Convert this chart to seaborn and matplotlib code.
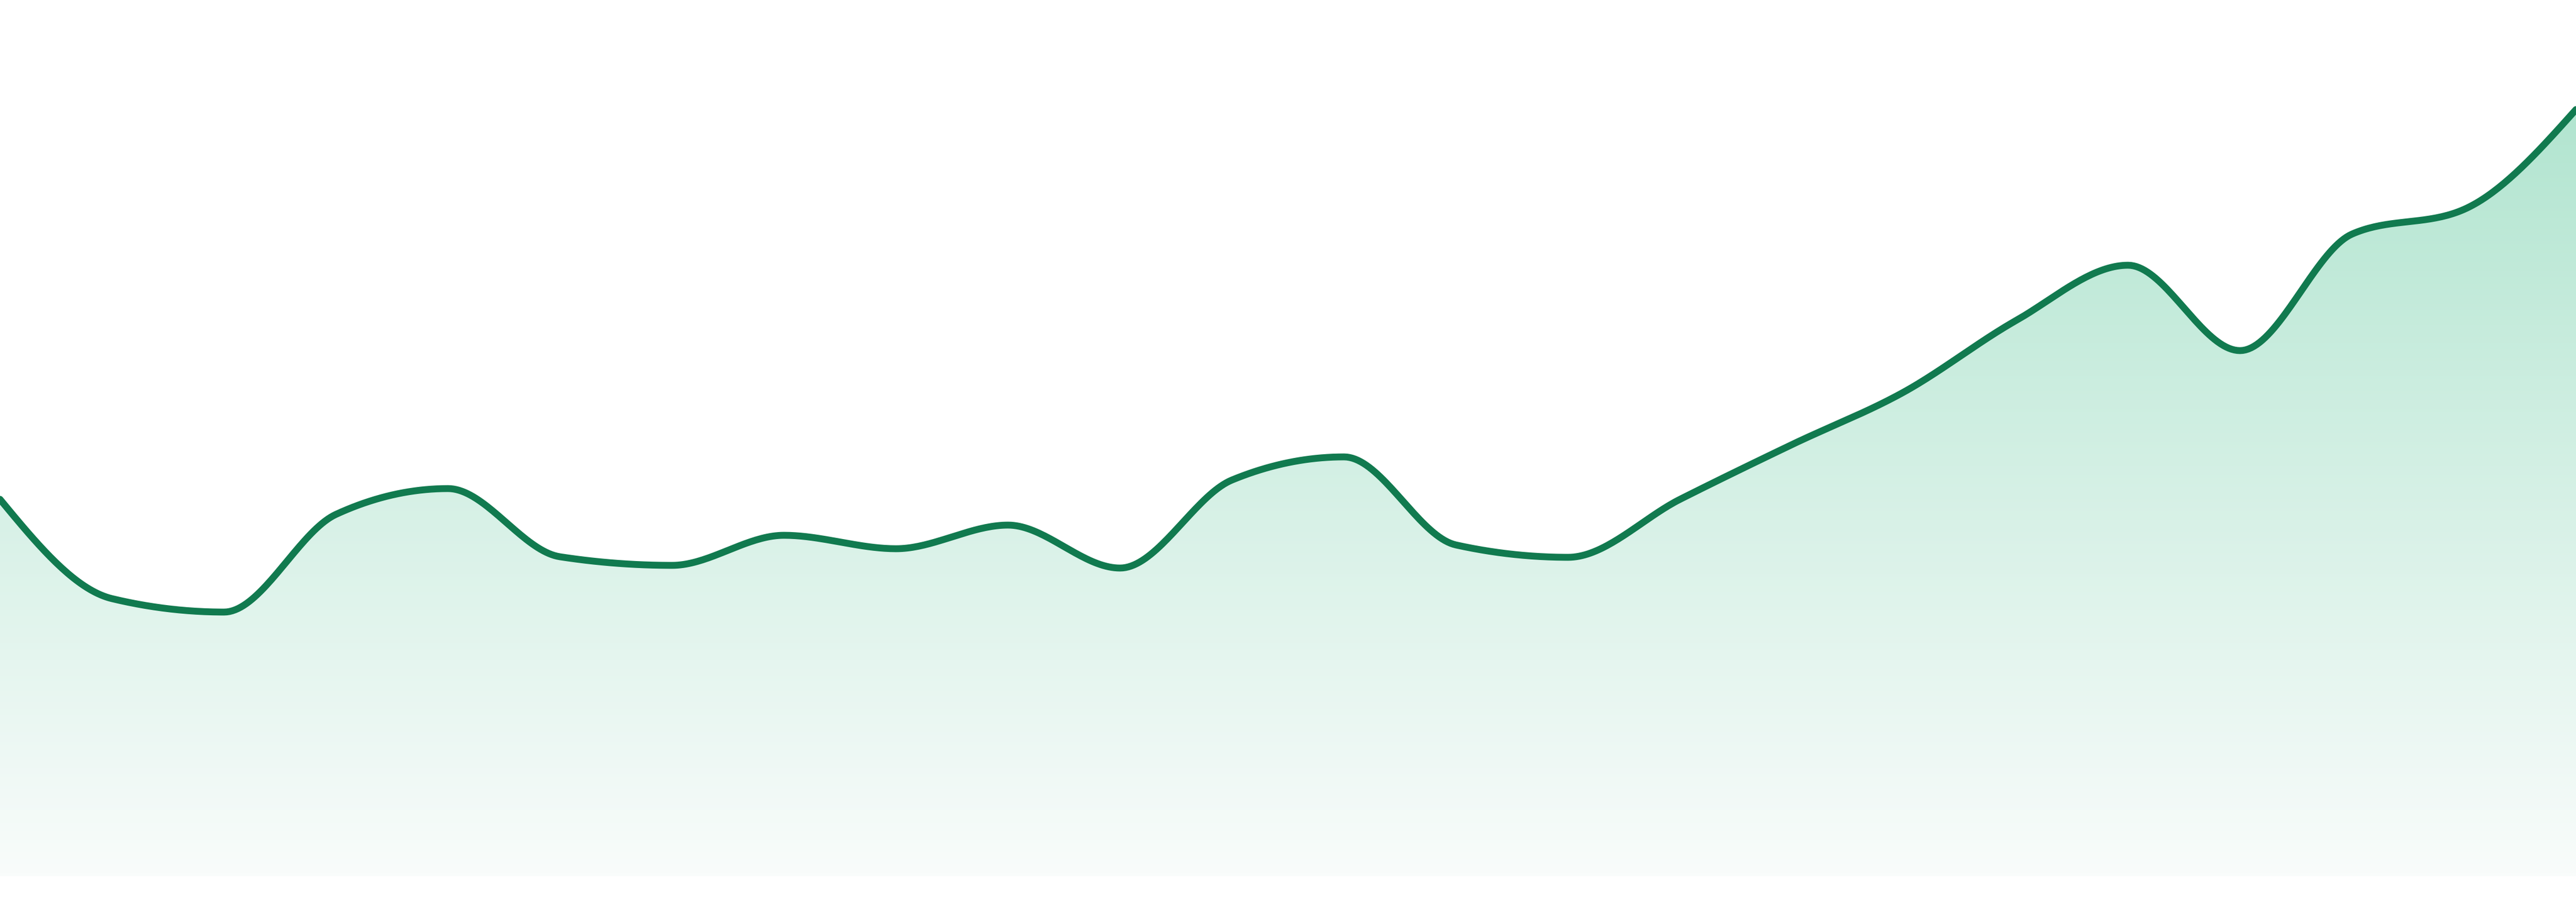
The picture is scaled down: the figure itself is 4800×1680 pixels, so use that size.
import numpy as np
import pandas as pd
import matplotlib
matplotlib.use("Agg")
import matplotlib.pyplot as plt
import seaborn as sns
from matplotlib.colors import LinearSegmentedColormap

sns.set_theme(style="white")

# ------------------------------
# data (24 evenly spaced points)
# ------------------------------
steps = list(range(24))
values = [702, 517, 492, 674, 722, 595, 579, 635, 610, 654, 574, 738,
          781, 617, 594, 702, 804, 902, 1035, 1138, 979, 1196, 1242, 1428]

line_color = "#117a4f"
fill_top = "#b2e5d0"
fill_bottom = "#f9fcfb"


# monotone cubic curve (same smoothing as d3 curveMonotoneX)
def monotone_curve(x, y, n=40):
    x = np.asarray(x, float)
    y = np.asarray(y, float)
    h = np.diff(x)
    s = np.diff(y) / h
    t = np.zeros(len(x))
    for i in range(1, len(x) - 1):
        s0, s1 = s[i - 1], s[i]
        p = (s0 * h[i] + s1 * h[i - 1]) / (h[i - 1] + h[i])
        t[i] = (np.sign(s0) + np.sign(s1)) * min(abs(s0), abs(s1), 0.5 * abs(p))
    t[0] = (3 * s[0] - t[1]) / 2
    t[-1] = (3 * s[-1] - t[-2]) / 2
    xs, ys = [], []
    for i in range(len(x) - 1):
        u = np.linspace(0, 1, n, endpoint=(i == len(x) - 2))
        h00 = 2 * u**3 - 3 * u**2 + 1
        h10 = u**3 - 2 * u**2 + u
        h01 = -2 * u**3 + 3 * u**2
        h11 = u**3 - u**2
        xs.append(x[i] + u * h[i])
        ys.append(h00 * y[i] + h10 * h[i] * t[i] + h01 * y[i + 1] + h11 * h[i] * t[i + 1])
    return np.concatenate(xs), np.concatenate(ys)


cx, cy = monotone_curve(steps, values)
curve = pd.DataFrame({"step": cx, "value": cy})

fig = plt.figure(figsize=(24, 8.4), dpi=200)
ax = fig.add_axes([0, 0, 1, 1])

# gradient fill under the line
area = ax.fill_between(curve["step"], 0, curve["value"], color="none", lw=0)
cmap = LinearSegmentedColormap.from_list("fade", [fill_bottom, fill_top])
grad = np.linspace(0, 1, 256).reshape(-1, 1)
img = ax.imshow(grad, cmap=cmap, aspect="auto", origin="lower",
                extent=[0, 23, 0, max(values)], zorder=1)
img.set_clip_path(area.get_paths()[0], transform=ax.transData)

sns.lineplot(data=curve, x="step", y="value", ax=ax, color=line_color,
             linewidth=4.6, sort=False, zorder=3)

ax.set_xlim(0, 23)
ax.set_ylim(-48, 1632)
ax.axis("off")

fig.savefig("out.png", dpi=200, facecolor="white")
